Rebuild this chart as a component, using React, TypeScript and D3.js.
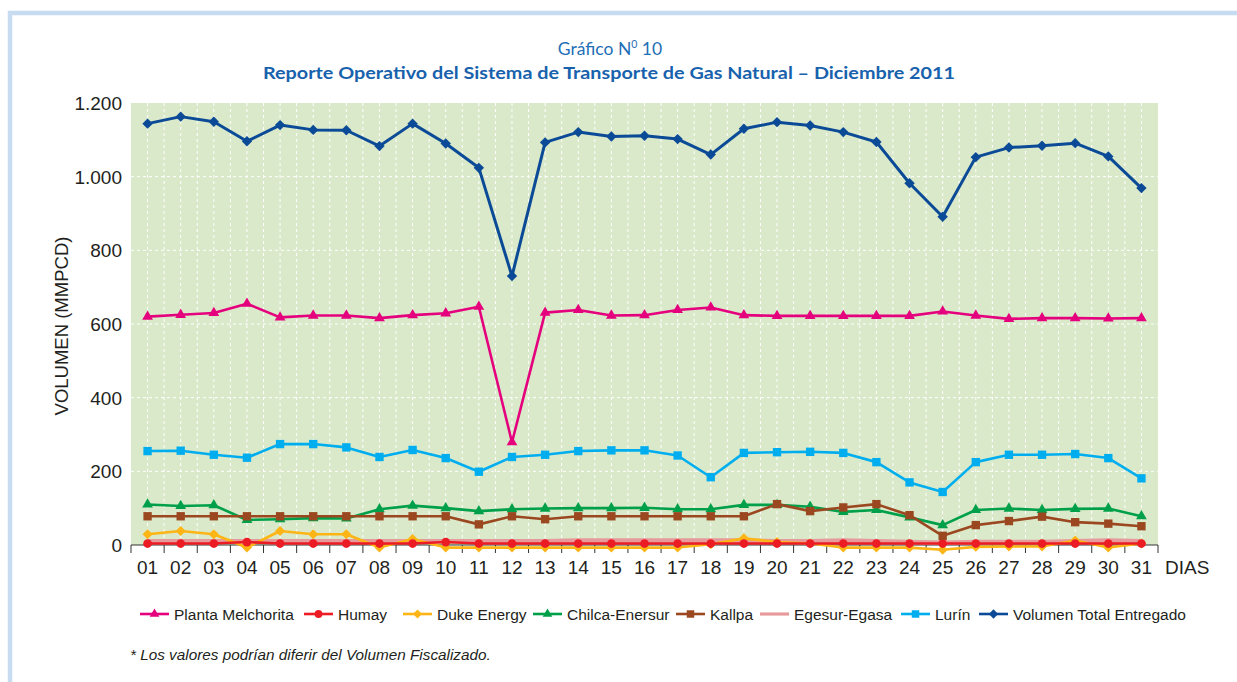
import React from "react";
import * as d3 from "d3";

const days = ["01","02","03","04","05","06","07","08","09","10","11","12","13","14","15","16","17","18","19","20","21","22","23","24","25","26","27","28","29","30","31"];
const yTicks = [0, 200, 400, 600, 800, 1000, 1200];
const yTickLabels = ["0", "200", "400", "600", "800", "1.000", "1.200"];

const melchorita = [620,625,630,655,618,623,623,616,624,629,647,279,631,638,623,624,638,645,624,622,622,622,622,622,634,623,614,616,616,615,616];
const humay = [4,4,4,8,4,4,4,4,4,8,4,4,4,4,4,4,4,4,4,4,4,4,4,4,4,4,4,4,4,4,4];
const duke = [29,38,29,-7,38,29,29,-7,16,-7,-7,-7,-7,-7,-7,-7,-7,2,18,8,4,-7,-7,-7,-13,-5,-4,-4,12,-7,4];
const chilca = [110,106,108,68,70,73,72,97,107,100,92,97,99,100,100,101,97,97,109,109,104,90,95,75,54,95,99,95,98,99,78];
const kallpa = [78,78,78,78,78,78,78,78,78,78,56,78,70,78,78,78,78,78,78,111,92,102,111,81,25,54,65,77,62,58,51];
const egesur = [10,10,10,10,10,10,10,10,10,10,10,10,10,12,12,12,12,12,12,10,10,12,10,8,6,8,8,8,10,12,10];
const lurin = [255,256,245,237,274,274,265,239,258,236,199,239,245,255,257,257,243,184,250,252,253,250,225,170,144,225,245,245,247,236,181];
const total = [1144,1163,1149,1096,1140,1127,1126,1083,1144,1090,1024,730,1093,1121,1109,1111,1102,1060,1130,1148,1139,1121,1094,982,891,1053,1079,1084,1091,1055,969];

type Marker = "triangle" | "circle" | "diamond" | "square" | "none";
interface Series { name: string; values: number[]; color: string; width: number; marker: Marker; size: number; }

const series: Series[] = [
  { name: "Planta Melchorita", values: melchorita, color: "#e5007d", width: 2.6, marker: "triangle", size: 50 },
  { name: "Humay", values: humay, color: "#ec1c24", width: 2.6, marker: "circle", size: 60 },
  { name: "Duke Energy", values: duke, color: "#fdb515", width: 2.6, marker: "diamond", size: 50 },
  { name: "Chilca-Enersur", values: chilca, color: "#00a04a", width: 2.6, marker: "triangle", size: 50 },
  { name: "Kallpa", values: kallpa, color: "#9b4821", width: 2.6, marker: "square", size: 70 },
  { name: "Egesur-Egasa", values: egesur, color: "#e79a9c", width: 4.5, marker: "none", size: 0 },
  { name: "Lurín", values: lurin, color: "#00aeef", width: 2.6, marker: "square", size: 70 },
  { name: "Volumen Total Entregado", values: total, color: "#0b4a97", width: 3, marker: "diamond", size: 54 },
];
const drawOrder = [5, 0, 2, 1, 3, 4, 6, 7];
const legendX = [140, 304, 403, 533, 676, 760, 901, 979];

const W = 1237, H = 682;
const plot = { left: 131, right: 1158, top: 103, bottom: 545 };

function symbolPath(m: Marker, size: number): string {
  if (m === "triangle") return d3.symbol(d3.symbolTriangle, size)() || "";
  if (m === "circle") return d3.symbol(d3.symbolCircle, size)() || "";
  if (m === "square") return d3.symbol(d3.symbolSquare, size)() || "";
  if (m === "diamond") return d3.symbol(d3.symbolSquare, size)() || "";
  return "";
}

function MarkerShape({ s, x, y }: { s: Series; x: number; y: number }) {
  if (s.marker === "none") return null;
  const rot = s.marker === "diamond" ? " rotate(45)" : "";
  return <path d={symbolPath(s.marker, s.size)} transform={`translate(${x},${y})${rot}`} fill={s.color} />;
}

export default function App() {
  const x = d3.scaleBand<string>().domain(days).range([plot.left, plot.right]);
  const bw = x.bandwidth();
  const cx = (d: string) => (x(d) as number) + bw / 2;
  const y = d3.scaleLinear().domain([0, 1200]).range([plot.bottom, plot.top]);
  const line = d3.line<number>().x((_, i) => cx(days[i])).y((v) => y(v));

  const vGrid: number[] = [];
  days.forEach((d, i) => {
    vGrid.push(cx(d));
    if (i > 0) vGrid.push(x(d) as number);
  });

  const arial = "'Liberation Sans', Arial, sans-serif";
  const calibri = "Lato, 'Open Sans', sans-serif";

  return (
    <svg width={W} height={H} style={{ position: "absolute", left: 0, top: 0, background: "#fff" }}>
      <rect x={10} y={13} width={1400} height={900} fill="#fff" stroke="#c8dcf1" strokeWidth={4.5} />

      <text x={610} y={55} textAnchor="middle" fontFamily={calibri} fontSize={17.5} fill="#1f6fb6">
        Gráfico N<tspan fontSize={10.5} dy={-7}>0</tspan><tspan dy={7}> 10</tspan>
      </text>
      <text x={609} y={79} textAnchor="middle" fontFamily={calibri} fontSize={17} fontWeight="bold" fill="#1862ad"
        textLength={692} lengthAdjust="spacingAndGlyphs">
        Reporte Operativo del Sistema de Transporte de Gas Natural – Diciembre 2011
      </text>

      <rect x={plot.left} y={plot.top} width={plot.right - plot.left} height={plot.bottom - plot.top} fill="#d9e9c9" />
      {vGrid.map((gx, i) => (
        <line key={"v" + i} x1={gx} x2={gx} y1={plot.top} y2={plot.bottom} stroke="#fff" strokeWidth={1} strokeDasharray="3,3" />
      ))}
      {yTicks.filter((t) => t > 0 && t < 1200).map((t) => (
        <line key={"h" + t} x1={plot.left} x2={plot.right} y1={y(t)} y2={y(t)} stroke="#fff" strokeWidth={1} strokeDasharray="3,3" />
      ))}

      <line x1={plot.left} x2={plot.right} y1={plot.bottom} y2={plot.bottom} stroke="#333" strokeWidth={1} />
      {days.map((d) => (
        <line key={"t" + d} x1={x(d) as number} x2={x(d) as number} y1={plot.bottom} y2={plot.bottom + 8} stroke="#333" strokeWidth={1} />
      ))}
      <line x1={plot.right} x2={plot.right} y1={plot.bottom} y2={plot.bottom + 8} stroke="#333" strokeWidth={1} />

      {yTicks.map((t, i) => (
        <text key={"yl" + t} x={122} y={y(t) + 7} textAnchor="end" fontFamily={arial} fontSize={19} fill="#231f20">{yTickLabels[i]}</text>
      ))}
      {days.map((d) => (
        <text key={"xl" + d} x={cx(d)} y={574} textAnchor="middle" fontFamily={arial} fontSize={19} fill="#231f20">{d}</text>
      ))}
      <text x={1165} y={574} fontFamily={arial} fontSize={19} fill="#231f20">DIAS</text>
      <text transform={`translate(68,${(plot.top + plot.bottom) / 2 + 2}) rotate(-90)`} textAnchor="middle" fontFamily={arial} fontSize={18.5} fill="#231f20">VOLUMEN (MMPCD)</text>

      {drawOrder.map((k) => {
        const s = series[k];
        return (
          <g key={s.name}>
            <path d={line(s.values) || ""} fill="none" stroke={s.color} strokeWidth={s.width} strokeLinejoin="round" />
            {s.values.map((v, i) => (
              <MarkerShape key={i} s={s} x={cx(days[i])} y={y(v)} />
            ))}
          </g>
        );
      })}

      {series.map((s, i) => (
        <g key={"lg" + i} transform={`translate(${legendX[i]},614)`}>
          <line x1={0} x2={29} y1={0} y2={0} stroke={s.color} strokeWidth={s.marker === "none" ? 3.2 : 2.6} />
          <MarkerShape s={{ ...s, size: s.size * 0.8 }} x={14.5} y={0} />
          <text x={34} y={5.5} fontFamily={arial} fontSize={15.5} fill="#231f20">{s.name}</text>
        </g>
      ))}

      <text x={130} y={660} fontFamily={arial} fontSize={15.3} fontStyle="italic" fill="#231f20">* Los valores podrían diferir del Volumen Fiscalizado.</text>
    </svg>
  );
}
